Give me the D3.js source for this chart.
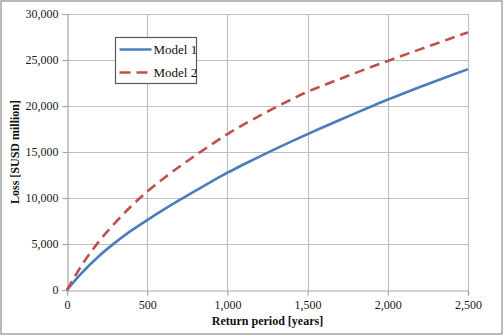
<!DOCTYPE html>
<html>
<head>
<meta charset="utf-8">
<script src="https://cdn.jsdelivr.net/npm/d3@7"></script>
<style>
  html, body { margin: 0; padding: 0; background: #fff; }
  svg { display: block; }
  svg text { font-family: 'Liberation Serif', 'Times New Roman', serif; }
</style>
</head>
<body>
<svg id="chart" width="504" height="336"></svg>
<script>
// Return periods (years)
const years = [0, 50, 100, 200, 300, 400, 500, 600, 700, 800, 900, 1000, 1100, 1200, 1300,
  1400, 1500, 1600, 1700, 1800, 1900, 2000, 2100, 2200, 2300, 2400, 2500];
// Loss, million USD
const model1 = [0, 1050, 2000, 3700, 5150, 6450, 7600, 8700, 9760, 10780, 11780, 12750, 13640,
  14505, 15345, 16160, 16950, 17720, 18480, 19230, 19970, 20700, 21390, 22060, 22720, 23370, 24000];
const model2 = [0, 1500, 2900, 5300, 7300, 9100, 10700, 12100, 13400, 14620, 15810, 16950, 17970,
  18930, 19850, 20720, 21550, 22250, 22930, 23600, 24260, 24900, 25530, 26155, 26775, 27390, 28000];
const seriesNames = ["Model 1", "Model 2"];
const xTicks = [0, 500, 1000, 1500, 2000, 2500];
const yTicks = [0, 5000, 10000, 15000, 20000, 25000, 30000];

const svg = d3.select("#chart");
const W = 504, H = 336;
const plot = { left: 67, right: 468, top: 14, bottom: 290 };
const font = "'Liberation Serif', 'Times New Roman', serif";
const gridColor = "#bfbfbf";

// outer frame
svg.append("rect")
  .attr("x", 1).attr("y", 1).attr("width", W - 3).attr("height", H - 3)
  .attr("fill", "#fff").attr("stroke", "#8c8c8c").attr("stroke-width", 1.2);

const x = d3.scaleLinear().domain([0, 2500]).range([plot.left, plot.right]);
const y = d3.scaleLinear().domain([0, 30000]).range([plot.bottom, plot.top]);
const fmt = d3.format(",");

// gridlines
const grid = svg.append("g");
grid.selectAll("line.v").data(xTicks.slice(1)).join("line")
  .attr("x1", d => Math.round(x(d)) + 0.5).attr("x2", d => Math.round(x(d)) + 0.5)
  .attr("y1", plot.top).attr("y2", plot.bottom)
  .attr("stroke", gridColor).attr("stroke-width", 1.2);
grid.selectAll("line.h").data(yTicks.slice(1)).join("line")
  .attr("y1", d => Math.round(y(d)) + 0.5).attr("y2", d => Math.round(y(d)) + 0.5)
  .attr("x1", plot.left).attr("x2", plot.right)
  .attr("stroke", gridColor).attr("stroke-width", 1.2);

// axes
const xAxis = svg.append("g")
  .attr("transform", `translate(0,${Math.round(y(0)) + 0.5})`)
  .call(d3.axisBottom(x).tickValues(xTicks).tickFormat(fmt).tickSize(5).tickPadding(5));
const yAxis = svg.append("g")
  .attr("transform", `translate(${Math.round(x(0)) + 0.5},0)`)
  .call(d3.axisLeft(y).tickValues(yTicks).tickFormat(fmt).tickSize(5).tickPadding(4));
[xAxis, yAxis].forEach(g => {
  g.attr("font-family", font).attr("font-size", 12);
  g.selectAll("path.domain").attr("stroke", "#a6a6a6").attr("stroke-width", 1.2);
  g.selectAll(".tick line").attr("stroke", "#a6a6a6").attr("stroke-width", 1.2);
  g.selectAll("text").style("font-family", font).style("font-size", "12px").attr("fill", "#1a1a1a");
});

// axis titles
svg.append("text")
  .attr("x", (plot.left + plot.right) / 2).attr("y", 325)
  .attr("text-anchor", "middle")
  .attr("font-size", 12).attr("font-weight", "bold").attr("fill", "#111")
  .text("Return period [years]");
svg.append("text")
  .attr("transform", `translate(19,${(plot.top + plot.bottom) / 2}) rotate(-90)`)
  .attr("text-anchor", "middle")
  .attr("font-size", 12).attr("font-weight", "bold").attr("fill", "#111")
  .text("Loss [SUSD million]");

// series
const line = d3.line().x(d => x(d[0])).y(d => y(d[1])).curve(d3.curveMonotoneX);
const series = [
  { name: seriesNames[0], values: model1, color: "#4a7ebb", dash: null },
  { name: seriesNames[1], values: model2, color: "#c0504d", dash: "10,6" }
];
series.forEach(s => {
  svg.append("path")
    .datum(years.map((yr, i) => [yr, s.values[i]]))
    .attr("d", line)
    .attr("fill", "none")
    .attr("stroke", s.color)
    .attr("stroke-width", 2.6)
    .attr("stroke-dasharray", s.dash);
});

// legend
const lg = svg.append("g").attr("transform", "translate(115.5,37.5)");
lg.append("rect").attr("width", 81).attr("height", 46)
  .attr("fill", "#fff").attr("stroke", "#595959").attr("stroke-width", 1.2);
series.forEach((s, i) => {
  const cy = 12 + i * 23;
  lg.append("line").attr("x1", 4).attr("x2", 36).attr("y1", cy).attr("y2", cy)
    .attr("stroke", s.color).attr("stroke-width", 2.6)
    .attr("stroke-dasharray", s.dash ? "11,6" : null);
  lg.append("text").attr("x", 38).attr("y", cy + 4.5)
    .attr("font-size", 13).attr("fill", "#111")
    .text(s.name);
});
</script>
</body>
</html>
